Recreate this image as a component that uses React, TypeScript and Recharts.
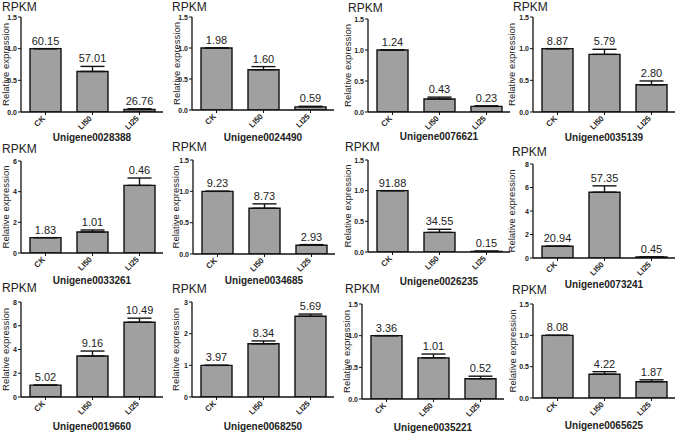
import React from 'react';
import { BarChart, Bar, XAxis, YAxis, ErrorBar, LabelList } from 'recharts';

const FONT = '"Liberation Sans", Arial, sans-serif';

const categories = ['CK', 'LI50', 'LI25'];

const geneIds = [
  'Unigene0028388', 'Unigene0024490', 'Unigene0076621', 'Unigene0035139',
  'Unigene0033261', 'Unigene0034685', 'Unigene0026235', 'Unigene0073241',
  'Unigene0019660', 'Unigene0068250', 'Unigene0035221', 'Unigene0065625',
];

// relative expression (bar heights), CK = 1
const relativeExpression = [
  [1, 0.64, 0.04],
  [1, 0.65, 0.05],
  [1, 0.21, 0.09],
  [1, 0.91, 0.43],
  [1, 1.37, 4.41],
  [1, 0.73, 0.14],
  [1, 0.32, 0.01],
  [1, 5.6, 0.08],
  [1, 3.45, 6.3],
  [1, 1.68, 2.55],
  [1, 0.65, 0.32],
  [1, 0.38, 0.26],
];

// upper error (SD)
const expressionError = [
  [0, 0.08, 0.01],
  [0, 0.05, 0.01],
  [0, 0.03, 0.01],
  [0, 0.08, 0.06],
  [0, 0.13, 0.48],
  [0, 0.07, 0.01],
  [0, 0.05, 0.005],
  [0, 0.54, 0.02],
  [0, 0.42, 0.34],
  [0, 0.09, 0.07],
  [0, 0.06, 0.04],
  [0, 0.04, 0.03],
];

// RPKM printed above each bar
const rpkmValues = [
  ['60.15', '57.01', '26.76'],
  ['1.98', '1.60', '0.59'],
  ['1.24', '0.43', '0.23'],
  ['8.87', '5.79', '2.80'],
  ['1.83', '1.01', '0.46'],
  ['9.23', '8.73', '2.93'],
  ['91.88', '34.55', '0.15'],
  ['20.94', '57.35', '0.45'],
  ['5.02', '9.16', '10.49'],
  ['3.97', '8.34', '5.69'],
  ['3.36', '1.01', '0.52'],
  ['8.08', '4.22', '1.87'],
];

const ticksHalf = [0, 0.5, 1, 1.5];
const ticksSix = [0, 2, 4, 6];
const ticksEight = [0, 2, 4, 6, 8];
const ticksThree = [0, 1, 2, 3];
const axisTicks = [
  ticksHalf, ticksHalf, ticksHalf, ticksHalf,
  ticksSix, ticksHalf, ticksHalf, ticksEight,
  ticksEight, ticksThree, ticksHalf, ticksHalf,
];

// panel layout (page pixels)
const axisX = [21, 192, 368, 533, 21, 193, 368, 533, 21, 192, 362, 533];
const plotTop = [17, 17, 19, 17, 161, 160, 160, 164, 302, 302, 304, 304];
const plotBottom = [112, 110, 112, 112, 253, 254, 252, 258, 397, 397, 399, 398];
const yLabelGap = [16, 16, 21, 22, 16, 18, 21, 22, 16, 17, 16, 21];
const rpkmX = [2, 172, 348, 513, 2, 172, 345, 512, 2, 172, 345, 512];
const rpkmY = [6.5, 6.5, 7.5, 7, 149, 147, 147, 152, 288, 289, 289, 290];
const titleY = [137.5, 137.5, 136.5, 137.5, 281, 281, 281.5, 285, 426.5, 426.5, 428, 426];

const PLOT_W = 142;
const LEFT = 45;
const TOP = 25;
const BOTTOM = 30;
const Y_AXIS_W = 30;
const X_AXIS_H = 20;

const CategoryTick = (props: any) => {
  const { x, y, payload } = props;
  const ax = x;
  const ay = y + 2;
  return (
    <text
      x={ax}
      y={ay}
      transform={`rotate(-45, ${ax}, ${ay})`}
      textAnchor="end"
      fontSize={8}
      fontWeight="bold"
      fontFamily={FONT}
      fill="#222"
    >
      {payload.value}
    </text>
  );
};

const makeValueTick = (decimals: number) => (props: any) => {
  const { x, y, payload } = props;
  return (
    <text
      x={x}
      y={y + 2.6}
      textAnchor="end"
      fontSize={7}
      fontWeight="bold"
      fontFamily={FONT}
      fill="#222"
    >
      {Number(payload.value).toFixed(decimals)}
    </text>
  );
};

const Panel = ({ i }: { i: number }) => {
  const plotH = plotBottom[i] - plotTop[i];
  const max = axisTicks[i][axisTicks[i].length - 1];
  const decimals = max <= 1.5 ? 1 : 0;
  const data = categories.map((c, k) => ({
    name: c,
    value: relativeExpression[i][k],
    err: [0, expressionError[i][k]],
    rpkm: rpkmValues[i][k],
  }));
  const pxPerUnit = plotH / max;
  const ValueTick = makeValueTick(decimals);

  const renderValue = (p: any) => {
    const { x, y, width, index } = p;
    const capY = y - expressionError[i][index] * pxPerUnit;
    return (
      <text
        x={x + width / 2}
        y={capY - 4}
        textAnchor="middle"
        fontSize={11}
        fontFamily={FONT}
        fill="#222"
      >
        {rpkmValues[i][index]}
      </text>
    );
  };

  const chartH = TOP + plotH + BOTTOM;
  const labelX = LEFT - yLabelGap[i];
  const labelY = TOP + plotH / 2;

  return (
    <>
      <div
        style={{
          position: 'absolute',
          left: axisX[i] - LEFT,
          top: plotTop[i] - TOP,
        }}
      >
        <BarChart
          width={LEFT + PLOT_W + 4}
          height={chartH}
          data={data}
          margin={{ top: TOP, right: 4, left: LEFT - Y_AXIS_W, bottom: BOTTOM - X_AXIS_H }}
          barSize={31}
        >
          <XAxis
            dataKey="name"
            type="category"
            height={X_AXIS_H}
            padding={{ left: 1, right: 0 }}
            axisLine={{ stroke: '#111', strokeWidth: 1.3 }}
            tickLine={{ stroke: '#111', strokeWidth: 1 }}
            tickSize={3}
            tick={<CategoryTick />}
            interval={0}
          />
          <YAxis
            type="number"
            domain={[0, max]}
            ticks={axisTicks[i]}
            width={Y_AXIS_W}
            allowDataOverflow
            axisLine={{ stroke: '#111', strokeWidth: 1.3 }}
            tickLine={{ stroke: '#111', strokeWidth: 1 }}
            tickSize={3}
            tickMargin={1}
            tick={<ValueTick />}
            interval={0}
          />
          <Bar
            dataKey="value"
            fill="#a0a0a0"
            stroke="#111"
            strokeWidth={1.4}
            isAnimationActive={false}
          >
            <ErrorBar dataKey="err" width={12} stroke="#111" strokeWidth={1.4} direction="y" />
            <LabelList dataKey="rpkm" content={renderValue} />
          </Bar>
          <text
            x={labelX}
            y={labelY}
            transform={`rotate(-90, ${labelX}, ${labelY})`}
            textAnchor="middle"
            dominantBaseline="central"
            fontSize={9.5}
            fontFamily={FONT}
            fill="#222"
          >
            Relative expression
          </text>
        </BarChart>
      </div>
      <div
        style={{
          position: 'absolute',
          left: rpkmX[i],
          top: rpkmY[i] - 6,
          fontSize: 12,
          lineHeight: '12px',
          fontFamily: FONT,
          color: '#222',
        }}
      >
        RPKM
      </div>
      <div
        style={{
          position: 'absolute',
          left: axisX[i] + PLOT_W / 2 - 60,
          width: 120,
          top: titleY[i] - 6,
          textAlign: 'center',
          fontSize: 10,
          lineHeight: '12px',
          fontWeight: 'bold',
          fontFamily: FONT,
          color: '#222',
        }}
      >
        {geneIds[i]}
      </div>
    </>
  );
};

export default function App() {
  return (
    <div
      style={{
        position: 'absolute',
        left: 0,
        top: 0,
        width: 677,
        height: 434,
        overflow: 'hidden',
        background: '#fff',
      }}
    >
      {geneIds.map((_, i) => (
        <Panel key={i} i={i} />
      ))}
    </div>
  );
}
